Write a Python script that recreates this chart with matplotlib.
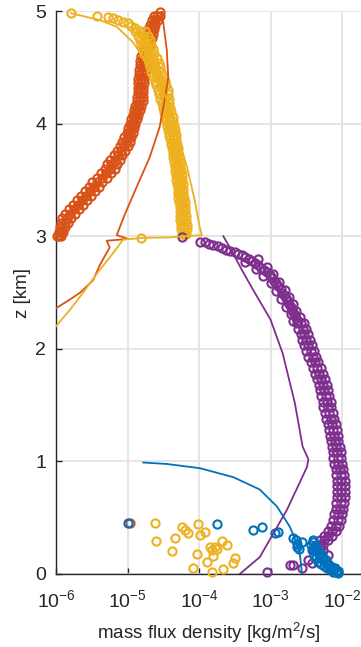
import matplotlib
matplotlib.use("Agg")
import matplotlib.pyplot as plt
import numpy as np
from matplotlib.ticker import LogLocator, LogFormatterMathtext, NullLocator

plt.rcParams["font.family"] = ["Liberation Sans", "DejaVu Sans"]
plt.rcParams["mathtext.fontset"] = "custom"
plt.rcParams["mathtext.rm"] = "Liberation Sans"
plt.rcParams["mathtext.it"] = "Liberation Sans:italic"
plt.rcParams["mathtext.sf"] = "Liberation Sans"

BLUE = "#0072BD"
ORANGE = "#D95319"
YELLOW = "#EDB120"
PURPLE = "#7E2F8E"

# measured points, x given as log10(mass flux density), z in km
# orange band: three columns of markers per height level
orange_z = [3.00, 3.04, 3.08, 3.12, 3.16, 3.20, 3.24, 3.28, 3.32, 3.36,
            3.40, 3.44, 3.48, 3.52, 3.56, 3.60, 3.64, 3.68, 3.72, 3.76,
            3.80, 3.84, 3.88, 3.92, 3.96, 4.00, 4.04, 4.08, 4.12, 4.16,
            4.20, 4.24, 4.28, 4.32, 4.36, 4.40, 4.44, 4.48, 4.52, 4.56,
            4.60, 4.64, 4.68, 4.72, 4.76, 4.80, 4.84, 4.88, 4.92, 4.96]
orange_left = [-5.99, -5.96, -5.95, -5.93, -5.91, -5.87, -5.82, -5.76, -5.70, -5.65,
               -5.60, -5.54, -5.49, -5.43, -5.37, -5.32, -5.28, -5.24, -5.19, -5.15,
               -5.11, -5.07, -5.05, -5.01, -4.99, -4.97, -4.95, -4.93, -4.91, -4.89,
               -4.87, -4.87, -4.86, -4.86, -4.85, -4.85, -4.84, -4.84, -4.83, -4.82,
               -4.81, -4.79, -4.77, -4.76, -4.74, -4.73, -4.71, -4.69, -4.66, -4.63]
orange_mid = [-5.96, -5.93, -5.91, -5.88, -5.85, -5.80, -5.75, -5.69, -5.63, -5.58,
              -5.53, -5.47, -5.42, -5.36, -5.30, -5.25, -5.21, -5.17, -5.13, -5.09,
              -5.05, -5.02, -5.00, -4.97, -4.95, -4.93, -4.91, -4.89, -4.87, -4.85,
              -4.83, -4.83, -4.82, -4.82, -4.81, -4.81, -4.80, -4.80, -4.79, -4.78,
              -4.77, -4.75, -4.73, -4.72, -4.70, -4.69, -4.67, -4.65, -4.62, -4.59]
orange_right = [-5.93, -5.90, -5.87, -5.83, -5.79, -5.73, -5.68, -5.62, -5.56, -5.51,
                -5.46, -5.40, -5.35, -5.29, -5.23, -5.18, -5.14, -5.10, -5.07, -5.03,
                -4.99, -4.97, -4.95, -4.93, -4.91, -4.89, -4.87, -4.85, -4.83, -4.81,
                -4.79, -4.79, -4.78, -4.78, -4.77, -4.77, -4.76, -4.76, -4.75, -4.74,
                -4.73, -4.71, -4.69, -4.68, -4.66, -4.65, -4.63, -4.61, -4.58, -4.55]
orange_extra_lq = [-4.55, -4.97]
orange_extra_z = [4.99, 0.45]

# yellow band
yellow_z = [3.02, 3.06, 3.10, 3.14, 3.18, 3.22, 3.26, 3.30, 3.34, 3.38,
            3.42, 3.46, 3.50, 3.54, 3.58, 3.62, 3.66, 3.70, 3.74, 3.78,
            3.82, 3.86, 3.90, 3.94, 3.98, 4.02, 4.06, 4.10, 4.14, 4.18,
            4.22, 4.26, 4.30, 4.34, 4.38, 4.42, 4.46, 4.50, 4.54, 4.58,
            4.62, 4.66, 4.70, 4.74, 4.78, 4.82]
yellow_left = [-4.24, -4.25, -4.25, -4.26, -4.26, -4.27, -4.27, -4.28, -4.29, -4.30,
               -4.30, -4.31, -4.32, -4.32, -4.33, -4.34, -4.35, -4.36, -4.37, -4.38,
               -4.39, -4.40, -4.42, -4.43, -4.45, -4.46, -4.47, -4.49, -4.51, -4.52,
               -4.54, -4.56, -4.58, -4.60, -4.62, -4.65, -4.67, -4.68, -4.70, -4.73,
               -4.77, -4.79, -4.81, -4.83, -4.86, -4.90]
yellow_mid = [-4.21, -4.21, -4.21, -4.22, -4.22, -4.23, -4.23, -4.24, -4.25, -4.26,
              -4.26, -4.27, -4.28, -4.28, -4.29, -4.30, -4.31, -4.32, -4.33, -4.34,
              -4.35, -4.36, -4.37, -4.38, -4.40, -4.41, -4.42, -4.44, -4.46, -4.47,
              -4.48, -4.50, -4.51, -4.53, -4.55, -4.58, -4.60, -4.61, -4.63, -4.66,
              -4.70, -4.72, -4.74, -4.76, -4.79, -4.83]
yellow_right = [-4.18, -4.17, -4.17, -4.18, -4.18, -4.19, -4.19, -4.20, -4.21, -4.22,
                -4.22, -4.23, -4.24, -4.24, -4.25, -4.26, -4.27, -4.28, -4.29, -4.30,
                -4.31, -4.32, -4.32, -4.33, -4.35, -4.36, -4.37, -4.39, -4.41, -4.42,
                -4.42, -4.44, -4.44, -4.46, -4.48, -4.51, -4.53, -4.54, -4.56, -4.59,
                -4.63, -4.65, -4.67, -4.69, -4.72, -4.76]
yellow_extra_lq = [
    -5.79, -5.43, -5.27, -5.20, -5.13, -5.06, -5.00, -4.95, -4.90,
    -4.81,
    -4.61, -4.60, -4.34, -4.38, -4.24, -4.20, -4.15, -4.01, -3.99, -3.92,
    -4.03, -4.08, -3.89, -3.82, -3.78, -3.80, -3.82, -3.68, -3.61, -3.66,
    -3.50, -3.52, -3.85, -3.75]
yellow_extra_z = [
    4.98, 4.96, 4.95, 4.94, 4.92, 4.90, 4.89, 4.87, 4.85,
    2.98,
    0.45, 0.29, 0.32, 0.20, 0.42, 0.39, 0.36, 0.44, 0.35, 0.37,
    0.18, 0.05, 0.11, 0.21, 0.24, 0.16, 0.02, 0.29, 0.26, 0.04,
    0.14, 0.10, 0.24, 0.22]

# upper (slanted) part of the purple profile
purple_top_lq = [
    -4.24, -3.99, -3.92, -3.86, -3.80, -3.74, -3.68, -3.62, -3.56, -3.50,
    -3.45, -3.40, -3.35, -3.30, -3.26, -3.22, -3.17, -3.13, -3.09, -3.05,
    -3.01, -2.98, -2.95, -2.92, -2.89, -2.86, -2.84, -2.81, -2.79, -2.76,
    -2.74, -2.72, -2.70, -2.68, -2.66, -2.64, -2.62,
    -3.36, -3.20, -3.10, -3.00, -2.92, -2.85, -2.78, -2.72, -2.68,
    -3.18, -3.05, -2.96, -2.88, -2.80, -2.74, -2.69, -2.64, -2.59]
purple_top_z = [
    2.99, 2.95, 2.945, 2.935, 2.92, 2.91, 2.895, 2.88, 2.87, 2.86,
    2.845, 2.83, 2.815, 2.80, 2.78, 2.76, 2.74, 2.72, 2.70, 2.68,
    2.655, 2.63, 2.60, 2.58, 2.555, 2.53, 2.50, 2.475, 2.45, 2.425,
    2.40, 2.375, 2.35, 2.325, 2.30, 2.275, 2.25,
    2.77, 2.71, 2.65, 2.58, 2.51, 2.44, 2.37, 2.31, 2.25,
    2.80, 2.73, 2.66, 2.59, 2.52, 2.46, 2.40, 2.34, 2.28]

# lower (near vertical) part of the purple profile
purple_z = [2.23, 2.18, 2.13, 2.08, 2.03, 1.98, 1.93, 1.88, 1.83, 1.78,
            1.73, 1.68, 1.63, 1.58, 1.53, 1.48, 1.43, 1.38, 1.33, 1.28,
            1.23, 1.18, 1.13, 1.08, 1.03, 0.98, 0.93, 0.88, 0.83, 0.78,
            0.73, 0.68, 0.63, 0.58, 0.53, 0.48, 0.43, 0.38, 0.34, 0.30,
            0.26, 0.22]
purple_left = [-2.63, -2.61, -2.58, -2.56, -2.53, -2.50, -2.47, -2.44, -2.41, -2.38,
               -2.35, -2.32, -2.31, -2.29, -2.27, -2.26, -2.24, -2.22, -2.20, -2.18,
               -2.17, -2.16, -2.14, -2.13, -2.12, -2.11, -2.09, -2.08, -2.07, -2.07,
               -2.07, -2.07, -2.08, -2.09, -2.11, -2.12, -2.15, -2.20, -2.25, -2.31,
               -2.36, -2.41]
purple_mid = [-2.58, -2.55, -2.53, -2.50, -2.47, -2.44, -2.41, -2.38, -2.35, -2.32,
              -2.29, -2.27, -2.25, -2.23, -2.21, -2.20, -2.18, -2.16, -2.14, -2.12,
              -2.11, -2.10, -2.08, -2.07, -2.06, -2.05, -2.03, -2.02, -2.01, -2.01,
              -2.01, -2.01, -2.02, -2.03, -2.05, -2.06, -2.09, -2.14, -2.19, -2.25,
              -2.31, -2.36]
purple_right = [-2.53, -2.50, -2.47, -2.45, -2.42, -2.39, -2.36, -2.33, -2.30, -2.27,
                -2.24, -2.21, -2.20, -2.18, -2.16, -2.15, -2.13, -2.11, -2.09, -2.07,
                -2.06, -2.05, -2.03, -2.02, -2.01, -2.00, -1.98, -1.97, -1.96, -1.96,
                -1.96, -1.96, -1.97, -1.98, -2.00, -2.01, -2.04, -2.09, -2.14, -2.20,
                -2.26, -2.31]
purple_extra_lq = [-2.42, -2.56, -2.73, -3.05, -2.69, -2.47, -2.27, -2.20]
purple_extra_z = [0.10, 0.05, 0.08, 0.02, 0.08, 0.12, 0.21, 0.17]

blue_pts_lq = [-5.00, -3.75, -3.24, -3.12, -2.94, -2.89, -2.68, -2.63, -2.56, -2.63,
               -2.65, -2.60,
               -2.44, -2.40, -2.42, -2.38, -2.39, -2.35, -2.36, -2.32, -2.33, -2.29,
               -2.29, -2.26, -2.25, -2.22, -2.21, -2.18, -2.17, -2.14, -2.12, -2.10,
               -2.08, -2.06, -2.05, -2.41, -2.37, -2.31, -2.27, -2.23, -2.19, -2.15]
blue_pts_z = [0.45, 0.44, 0.39, 0.42, 0.36, 0.37, 0.32, 0.27, 0.28, 0.24,
              0.30, 0.22,
              0.26, 0.28, 0.21, 0.23, 0.17, 0.20, 0.14, 0.17, 0.11, 0.14,
              0.09, 0.12, 0.07, 0.10, 0.05, 0.08, 0.04, 0.06, 0.02, 0.05,
              0.02, 0.03, 0.01, 0.30, 0.25, 0.19, 0.15, 0.12, 0.09, 0.05]

# model profiles
orange_line_lq = [-4.52, -4.45, -4.43, -4.48, -4.55, -4.69, -4.87, -5.04, -5.15, -4.99,
                  -5.29, -5.25, -5.39, -5.48, -5.66, -5.80, -6.00]
orange_line_z = [5.00, 4.65, 4.41, 4.21, 3.97, 3.70, 3.44, 3.19, 3.01, 2.975,
                 2.96, 2.90, 2.74, 2.61, 2.50, 2.44, 2.36]

yellow_line_lq = [-5.79, -5.39, -5.15, -4.92, -4.69, -4.50, -4.31, -4.17, -4.06, -3.99,
                  -3.96, -4.41, -4.78, -5.06, -5.25, -5.39, -5.62, -5.80, -6.00]
yellow_line_z = [4.98, 4.92, 4.86, 4.72, 4.50, 4.30, 3.92, 3.62, 3.32, 3.08,
                 3.01, 2.99, 2.985, 2.97, 2.81, 2.70, 2.50, 2.35, 2.20]

purple_line_lq = [-3.66, -3.55, -3.40, -3.24, -3.00, -2.83, -2.66, -2.55, -2.47, -2.49,
                  -2.77, -3.15, -3.43]
purple_line_z = [3.00, 2.88, 2.70, 2.52, 2.26, 1.96, 1.52, 1.13, 1.02, 0.95,
                 0.57, 0.15, 0.00]

blue_line_lq = [-4.78, -4.45, -3.99, -3.52, -3.15, -2.91, -2.73, -2.63, -2.59, -2.56]
blue_line_z = [0.99, 0.977, 0.94, 0.86, 0.75, 0.60, 0.42, 0.27, 0.18, 0.01]


def q(lq):
    return 10 ** np.asarray(lq, dtype=float)


fig = plt.figure(figsize=(3.61, 6.47), dpi=100)
ax = fig.add_axes([56 / 361, 73 / 647, 305 / 361, 563 / 647])

mk = dict(ls="none", marker="o", mfc="none", ms=5.9, mew=1.5, clip_on=False)
for col in (orange_left, orange_mid, orange_right):
    ax.plot(q(col), orange_z, color=ORANGE, zorder=3, **mk)
ax.plot(q(orange_extra_lq), orange_extra_z, color=ORANGE, zorder=3, **mk)
for col in (yellow_left, yellow_mid, yellow_right):
    ax.plot(q(col), yellow_z, color=YELLOW, zorder=4, **mk)
ax.plot(q(yellow_extra_lq), yellow_extra_z, color=YELLOW, zorder=4, **mk)
ax.plot(q(purple_top_lq), purple_top_z, color=PURPLE, zorder=5, **mk)
for col in (purple_left, purple_mid, purple_right):
    ax.plot(q(col), purple_z, color=PURPLE, zorder=5, **mk)
ax.plot(q(purple_extra_lq), purple_extra_z, color=PURPLE, zorder=5, **mk)
ax.plot(q(blue_pts_lq), blue_pts_z, color=BLUE, zorder=6, **mk)

ln = dict(lw=1.3, zorder=7)
ax.plot(q(orange_line_lq), orange_line_z, color=ORANGE, **ln)
ax.plot(q(yellow_line_lq), yellow_line_z, color=YELLOW, **ln)
ax.plot(q(purple_line_lq), purple_line_z, color=PURPLE, **ln)
ax.plot(q(blue_line_lq), blue_line_z, color=BLUE, **ln)

ax.set_xscale("log")
ax.set_xlim(1e-6, 10 ** (-6 + 305 / 71.5))
ax.set_ylim(0, 5)
ax.xaxis.set_major_locator(LogLocator(base=10, numticks=10))
ax.xaxis.set_major_formatter(LogFormatterMathtext())
ax.xaxis.set_minor_locator(NullLocator())
ax.set_yticks([0, 1, 2, 3, 4, 5])

ax.grid(True, color="#e3e3e3", lw=1.3)
ax.set_axisbelow(True)
for s in ("top", "right"):
    ax.spines[s].set_visible(False)
for s in ("left", "bottom"):
    ax.spines[s].set_color("#262626")
    ax.spines[s].set_linewidth(1.0)
ax.tick_params(direction="in", length=4, width=1.0, colors="#262626", labelsize=14)
ax.tick_params(axis="x", pad=11)
ax.tick_params(axis="y", pad=7)

ax.set_xlabel("mass flux density [kg/m$^2$/s]", fontsize=13.5, color="#262626", labelpad=7)
ax.set_ylabel("z [km]", fontsize=13.5, color="#262626", labelpad=3)

fig.savefig("out.png", dpi=100)
